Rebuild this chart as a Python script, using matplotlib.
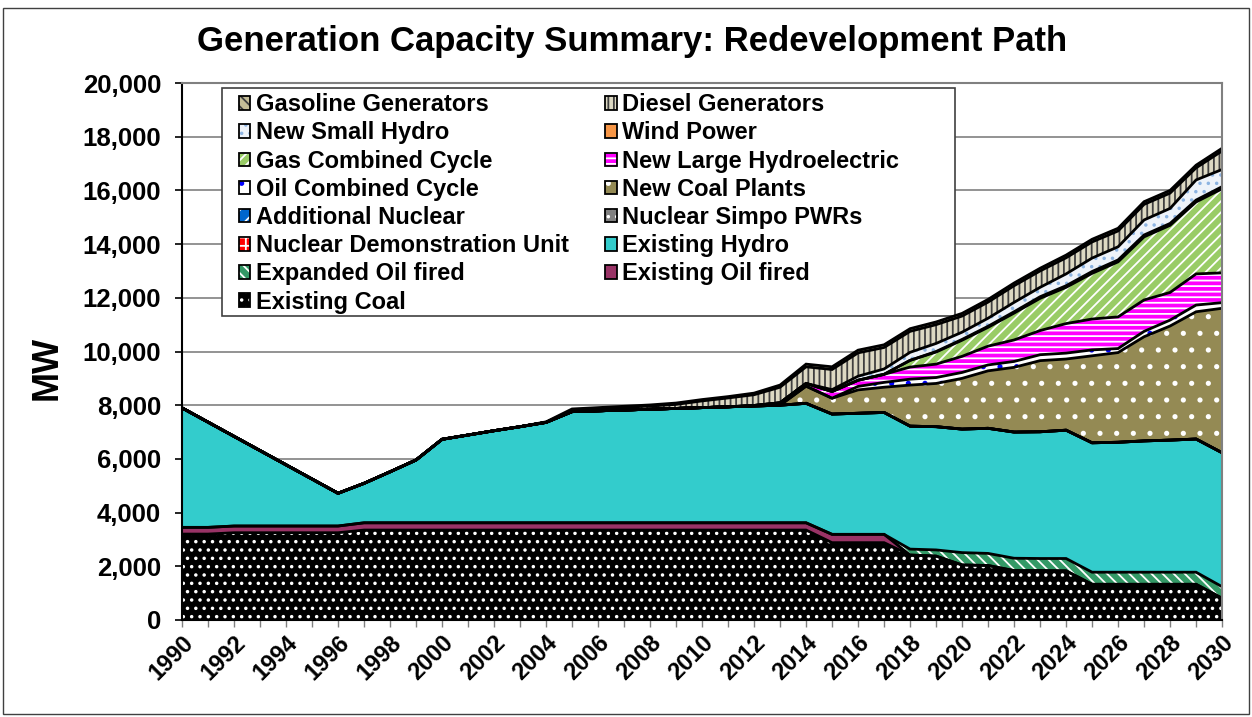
import matplotlib.pyplot as plt
from matplotlib.patches import Rectangle, Patch
from matplotlib.legend_handler import HandlerTuple
from matplotlib.ticker import FuncFormatter, MultipleLocator
import numpy as np

plt.rcParams['font.family'] = ['Liberation Sans', 'DejaVu Sans']
plt.rcParams['font.weight'] = 'bold'
plt.rcParams['hatch.linewidth'] = 1.3

years = np.arange(1990, 2031)

existing_coal = [3200, 3200] + [3250] * 5 + [3350] * 18 + [2880] * 3 + \
    [2420, 2380, 2050, 2030, 1840, 1840, 1830] + [1330] * 5 + [810]
existing_oil = [250] * 7 + [270] * 18 + [310] * 3 + [0] * 13
expanded_oil = [0] * 28 + [220, 230, 460, 450, 460, 450, 460] + [450] * 5 + [430]
existing_hydro = [4450, 3920, 3340, 2810, 2280, 1750, 1220, 1470, 1900, 2340,
                  3110, 3270, 3430, 3580, 3740, 4140, 4170, 4200, 4230, 4260,
                  4290, 4320, 4350, 4380, 4450, 4480, 4510, 4540, 4580, 4590,
                  4600, 4660, 4700, 4720, 4780, 4820, 4840, 4890, 4920, 4960, 4990]
nuclear_demo = [0] * 41
nuclear_simpo = [0] * 41
additional_nuclear = [0] * 41
new_coal = [0] * 24 + [640, 590, 870, 940, 1530, 1610, 1890, 2140, 2410, 2650,
                       2650, 3240, 3340, 3880, 4250, 4740, 5380]
oil_cc = [0] * 26 + [130, 180, 220, 220, 220, 220, 220, 220, 220, 220, 150,
                     200, 220, 250, 210]
new_large_hydro = [0] * 22 + [20, 90, 100, 250, 230, 300, 450, 500, 600, 700,
                              800, 900, 1100, 1150, 1180, 1170, 1030, 1160, 1110]
gas_cc = [0] * 28 + [250, 450, 600, 700, 1000, 1200, 1350, 1700, 2050, 2350,
                     2500, 2680, 3130]
wind = [0] * 29 + [20, 30, 40, 50, 60, 60, 70, 70, 70, 70, 70, 80]
new_small_hydro = [0] * 25 + [70, 150, 200, 300, 300, 270, 300, 350, 350, 440,
                              500, 490, 560, 560, 750, 640]
diesel = [0] * 15 + [60, 80, 100, 120, 150, 250, 330, 400, 580, 620, 750, 870,
                     800, 780, 700, 600, 600, 620, 610, 600, 600, 590, 580, 570,
                     450, 690]
gasoline = [0] * 14 + [20, 40, 40, 40, 40, 50, 50, 50, 60, 80] + [100] * 17

names = ['Existing Coal', 'Existing Oil fired', 'Expanded Oil fired',
         'Existing Hydro', 'Nuclear Demonstration Unit', 'Nuclear Simpo PWRs',
         'Additional Nuclear', 'New Coal Plants', 'Oil Combined Cycle',
         'New Large Hydroelectric', 'Gas Combined Cycle', 'Wind Power',
         'New Small Hydro', 'Diesel Generators', 'Gasoline Generators']
series = [existing_coal, existing_oil, expanded_oil, existing_hydro,
          nuclear_demo, nuclear_simpo, additional_nuclear, new_coal, oil_cc,
          new_large_hydro, gas_cc, wind, new_small_hydro, diesel, gasoline]
faces = ['black', '#993366', '#339966', '#33CCCC', '#FF0000', '#808080',
         '#0066CC', '#948A54', 'white', '#FF00FF', '#99CC66', '#F79646',
         '#EEF3FA', '#DDD9C3', '#C4BD97']
hatches = ['..', None, '\\\\\\', None, '++', '..', '//', '.', '.', '---',
           '///', None, '..', '|||', '\\\\\\']
hatch_cols = ['white', None, 'white', None, 'white', 'white', 'white', 'white',
              '#0000FF', 'white', 'white', None, '#8DB4E2', '#404040', '#404040']

fig = plt.figure(figsize=(12.52, 7.17), dpi=100)
ax = fig.add_axes([0.1454, 0.1353, 0.8307, 0.7489])

data = np.array(series, dtype=float)
polys = ax.stackplot(years, data, colors=faces, zorder=7)
for p, h, hc in zip(polys, hatches, hatch_cols):
    p.set_linewidth(0)
    if h:
        p.set_hatch(h)
        p.set_edgecolor(hc)

tops = np.cumsum(data, axis=0)
for t in tops:
    ax.plot(years, t, color='black', lw=2, zorder=8, solid_joinstyle='miter')

ax.set_xlim(1990, 2030)
ax.set_ylim(0, 20000)
ax.yaxis.set_major_locator(MultipleLocator(2000))
ax.yaxis.set_major_formatter(FuncFormatter(lambda v, p: f'{int(v):,}'))
ax.xaxis.set_major_locator(MultipleLocator(2))
ax.xaxis.set_minor_locator(MultipleLocator(1))
ax.set_axisbelow(True)
ax.yaxis.grid(True, color='#808080', lw=1.2, zorder=0)

ax.tick_params(axis='y', labelsize=18.5, length=5, width=1.2, pad=10)
ax.tick_params(axis='x', which='both', length=5, width=1, color='#808080')
ax.tick_params(axis='x', labelsize=17, pad=3)
for lab in ax.get_xticklabels():
    lab.set_rotation(45)
    lab.set_ha('right')
    lab.set_rotation_mode('anchor')
for s in ['top', 'right']:
    ax.spines[s].set_color('#808080')
    ax.spines[s].set_linewidth(1.5)
for s in ['left', 'bottom']:
    ax.spines[s].set_color('black')
    ax.spines[s].set_linewidth(1.5)
for s in ax.spines.values():
    s.set_zorder(9)

ax.set_ylabel('MW', fontsize=26, fontweight='bold')
ax.yaxis.set_label_coords(-0.1125, 0.469)
fig.text(0.505, 0.942, 'Generation Capacity Summary: Redevelopment Path',
         ha='center', va='center', fontsize=25)

# legend: excel-like row order, two columns
order = [14, 12, 10, 8, 6, 4, 2, 0, 13, 11, 9, 7, 5, 3, 1]
handles = []
for i in order:
    base = Patch(facecolor=faces[i], hatch=hatches[i],
                 edgecolor=hatch_cols[i] if hatch_cols[i] else faces[i], lw=0)
    frame = Patch(facecolor='none', edgecolor='black', lw=1.3)
    handles.append((base, frame))
leg = ax.legend(handles, [names[i] for i in order], ncol=2, loc='upper left',
                bbox_to_anchor=(0.043, 1.003), frameon=False, fontsize=17,
                handlelength=0.5, handleheight=0.5, handletextpad=0.22,
                labelspacing=0.22, columnspacing=1.55, borderpad=0,
                handler_map={tuple: HandlerTuple(ndivide=1)})
leg.set_zorder(6)
ax.add_patch(Rectangle((0.0385, 0.566), 0.7045, 0.4247, transform=ax.transAxes,
                       facecolor='white', edgecolor='#404040', lw=1.2, zorder=5))

fig.patches.append(Rectangle((0.0025, 0.004), 0.995, 0.985,
                             transform=fig.transFigure, fill=False,
                             edgecolor='#404040', lw=1))

fig.savefig('out.png', dpi=100)
